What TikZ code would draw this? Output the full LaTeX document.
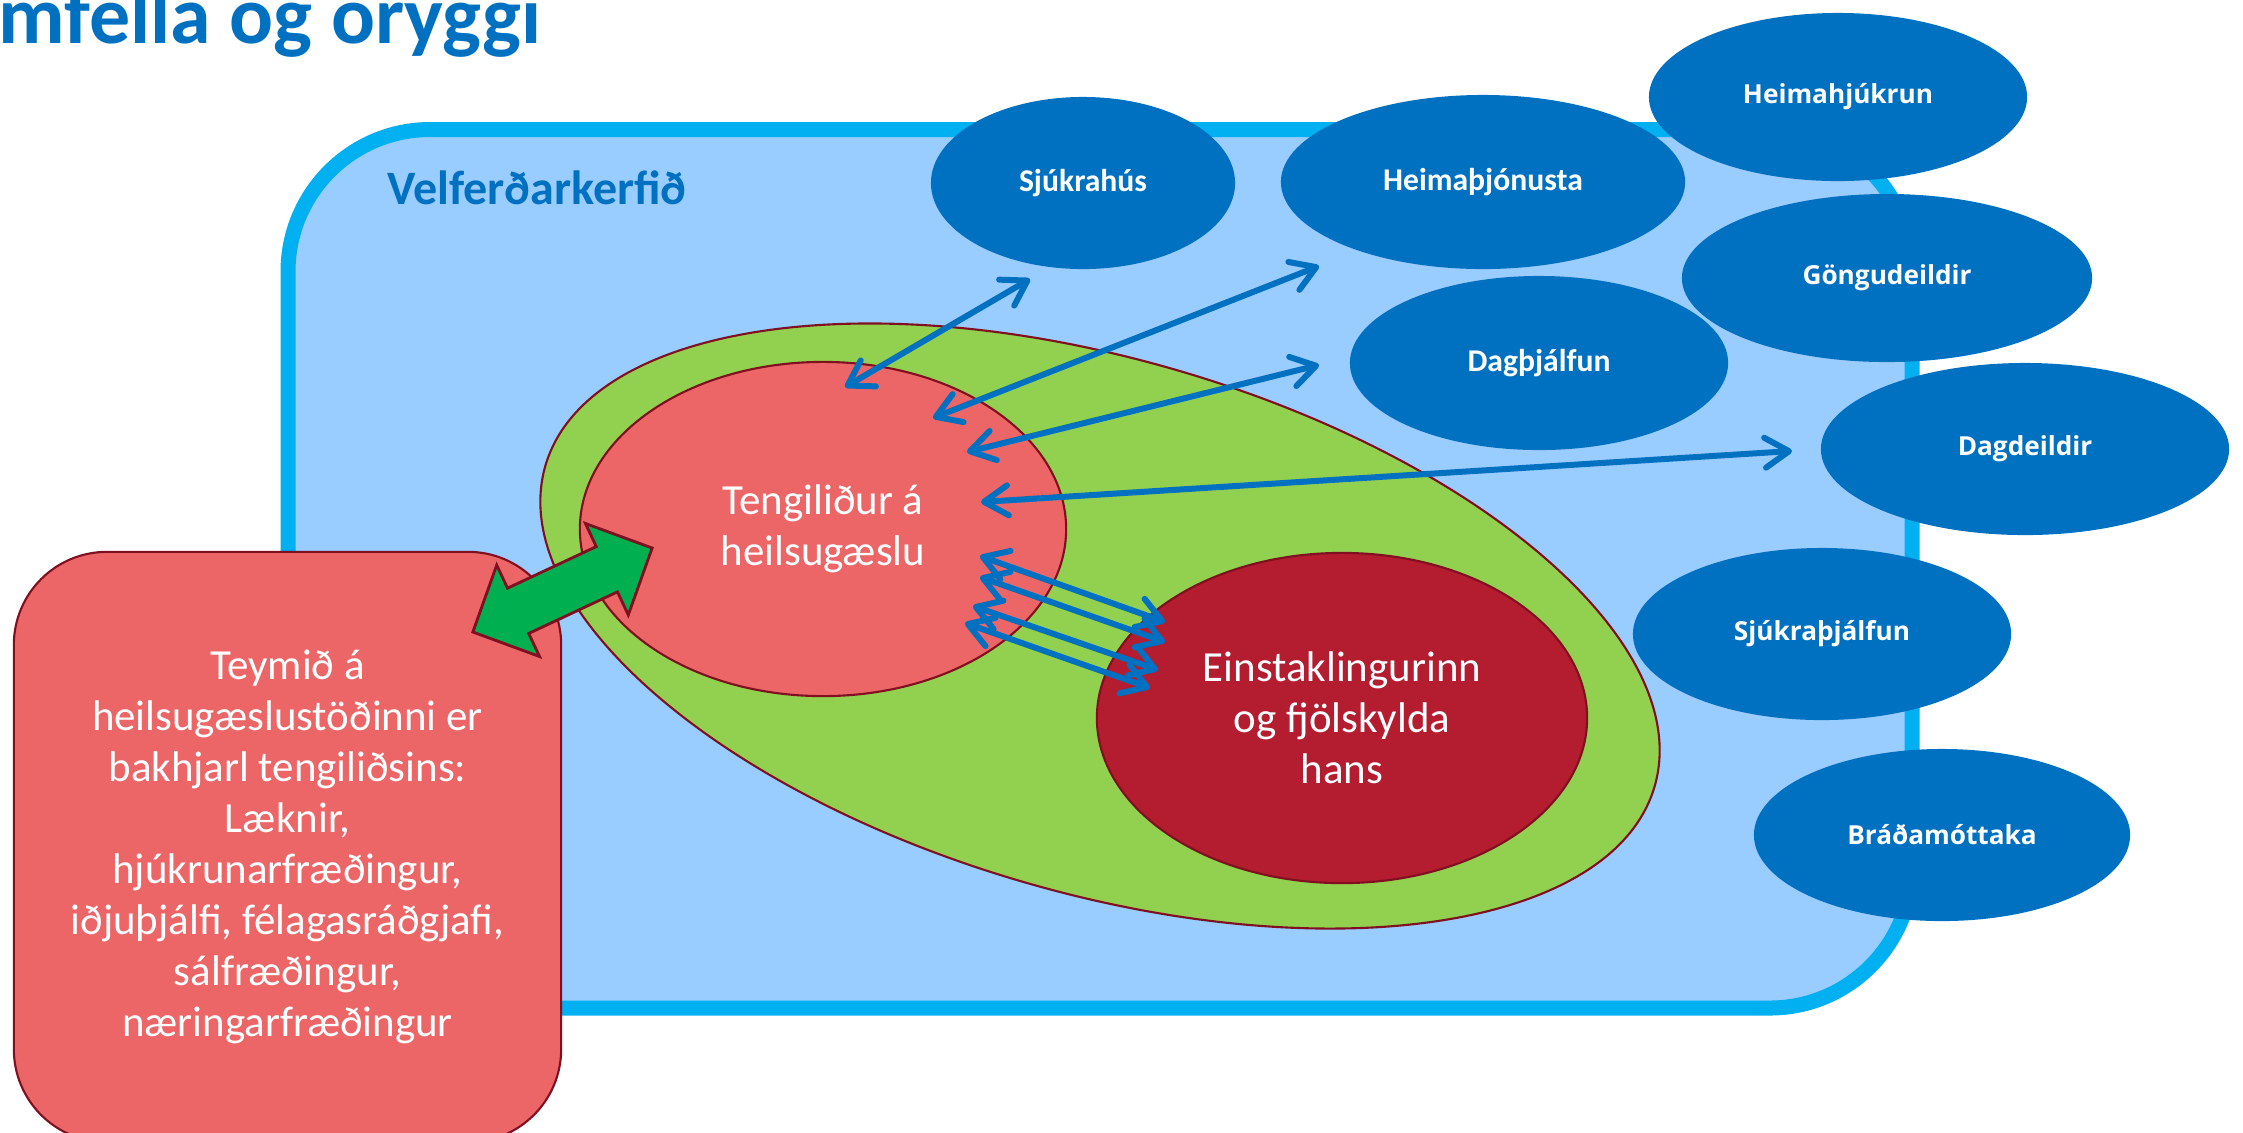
\documentclass[tikz,border=0pt]{standalone}
\usepackage{fontspec}
\setmainfont{Carlito}
\newfontfamily\opensans{Open Sans}
\usetikzlibrary{shapes.geometric,arrows.meta}
\definecolor{dblue}{RGB}{0,112,192}
\definecolor{lblue}{RGB}{153,204,255}
\definecolor{cyanb}{RGB}{0,176,240}
\definecolor{lgreen}{RGB}{146,208,80}
\definecolor{pinkr}{RGB}{236,102,104}
\definecolor{darkr}{RGB}{180,28,48}
\definecolor{outl}{RGB}{128,16,32}
\definecolor{agreen}{RGB}{0,176,80}

\begin{document}
\begin{tikzpicture}[x=0.01cm,y=-0.01cm,
    unit/.style={ellipse,fill=dblue,text=white,inner sep=0pt,outer sep=0pt},
    srv/.style={unit,font=\bfseries\fontsize{9}{11}\selectfont},
    srvb/.style={unit,font=\opensans\bfseries\fontsize{7.45}{9}\selectfont},
    body/.style={text=white,align=center,font=\fontsize{12.2}{14.5}\selectfont},
    blob/.style={ellipse,draw=outl,line width=0.6pt,inner sep=0pt},
    bakarrow/.style={draw=outl,line width=0.8pt,fill=agreen},
    link/.style={draw=dblue,line width=1.7pt,<->,>={Straight Barb[round,length=2.4mm,width=3mm]}}]
\useasboundingbox (0,0) rectangle (2243,1132);

\node[anchor=base west,inner sep=0pt,text=dblue,font=\bfseries\fontsize{23.3}{28}\selectfont] (title) at (-2,43) {mfella og öryggi};

\draw[line width=0.15cm,draw=cyanb,fill=lblue,rounded corners=1.42cm] (288,129.5) rectangle (1912,1008);
\node[text=dblue,font=\bfseries\fontsize{13.65}{16}\selectfont] (velf) at (537,188) {Velferðarkerfið};

\node[blob,fill=lgreen,rotate=-16.1,minimum width=11.54cm,minimum height=5.34cm] (umhv) at (1100,626) {};
\node[blob,fill=pinkr,minimum width=4.86cm,minimum height=3.34cm,body] (teng) at (823,529) {Tengiliður á\\heilsugæslu};
\node[blob,fill=darkr,minimum width=4.9cm,minimum height=3.3cm,body] (einst) at (1342,718) {Einstaklingurinn\\og fjölskylda\\hans};

\node[rectangle,draw=outl,line width=0.6pt,fill=pinkr,rounded corners=0.93cm,minimum width=5.47cm,minimum height=5.9cm,body] (teymi) at (287.5,847) {Teymið á\\heilsugæslustöðinni er\\bakhjarl tengiliðsins:\\Læknir,\\hjúkrunarfræðingur,\\iðjuþjálfi, félagasráðgjafi,\\sálfræðingur,\\næringarfræðingur};

\begin{scope}[shift={(562.5,590)},rotate=25.1]
\draw[bakarrow] (-99,0) -- (-49,-50.5) -- (-49,-25) -- (49,-25) -- (49,-50.5) -- (99,0)
  -- (49,50.5) -- (49,25) -- (-49,25) -- (-49,50.5) -- cycle;
\end{scope}

\node[srv,minimum width=3.04cm,minimum height=1.72cm] (sjuk) at (1083,183) {Sjúkrahús};
\node[srv,minimum width=4.04cm,minimum height=1.74cm] (heimth) at (1483,182) {Heimaþjónusta};
\node[srvb,minimum width=3.78cm,minimum height=1.68cm] (heimhj) at (1838,97) {Heimahjúkrun};
\node[srv,minimum width=3.78cm,minimum height=1.74cm] (dagth) at (1539,363) {Dagþjálfun};
\node[srvb,minimum width=4.1cm,minimum height=1.68cm] (gongu) at (1887,278) {Göngudeildir};
\node[srvb,minimum width=4.08cm,minimum height=1.72cm] (dagd) at (2025,449) {Dagdeildir};
\node[srvb,minimum width=3.78cm,minimum height=1.72cm] (sjukth) at (1822,634) {Sjúkraþjálfun};
\node[srvb,minimum width=3.76cm,minimum height=1.72cm] (brada) at (1942,835) {Bráðamóttaka};

\coordinate (t1) at (845,387);  \coordinate (s1) at (1030,279);
\coordinate (t2) at (933,418);  \coordinate (s2) at (1319,266);
\coordinate (t3) at (967,452);  \coordinate (s3) at (1319,365);
\coordinate (t4) at (981,502);  \coordinate (s4) at (1792,451);
\coordinate (t5) at (980,556);  \coordinate (e5) at (1165,622);
\coordinate (t6) at (980,577);  \coordinate (e6) at (1165,642);
\coordinate (t7) at (973,606);  \coordinate (e7) at (1158,670);
\coordinate (t8) at (965,623);  \coordinate (e8) at (1150,688);
\draw[link] (t1) -- (s1);
\draw[link] (t2) -- (s2);
\draw[link] (t3) -- (s3);
\draw[link] (t4) -- (s4);
\foreach \i in {5,...,8}
  \draw[link] (t\i) -- (e\i);
\end{tikzpicture}
\end{document}
